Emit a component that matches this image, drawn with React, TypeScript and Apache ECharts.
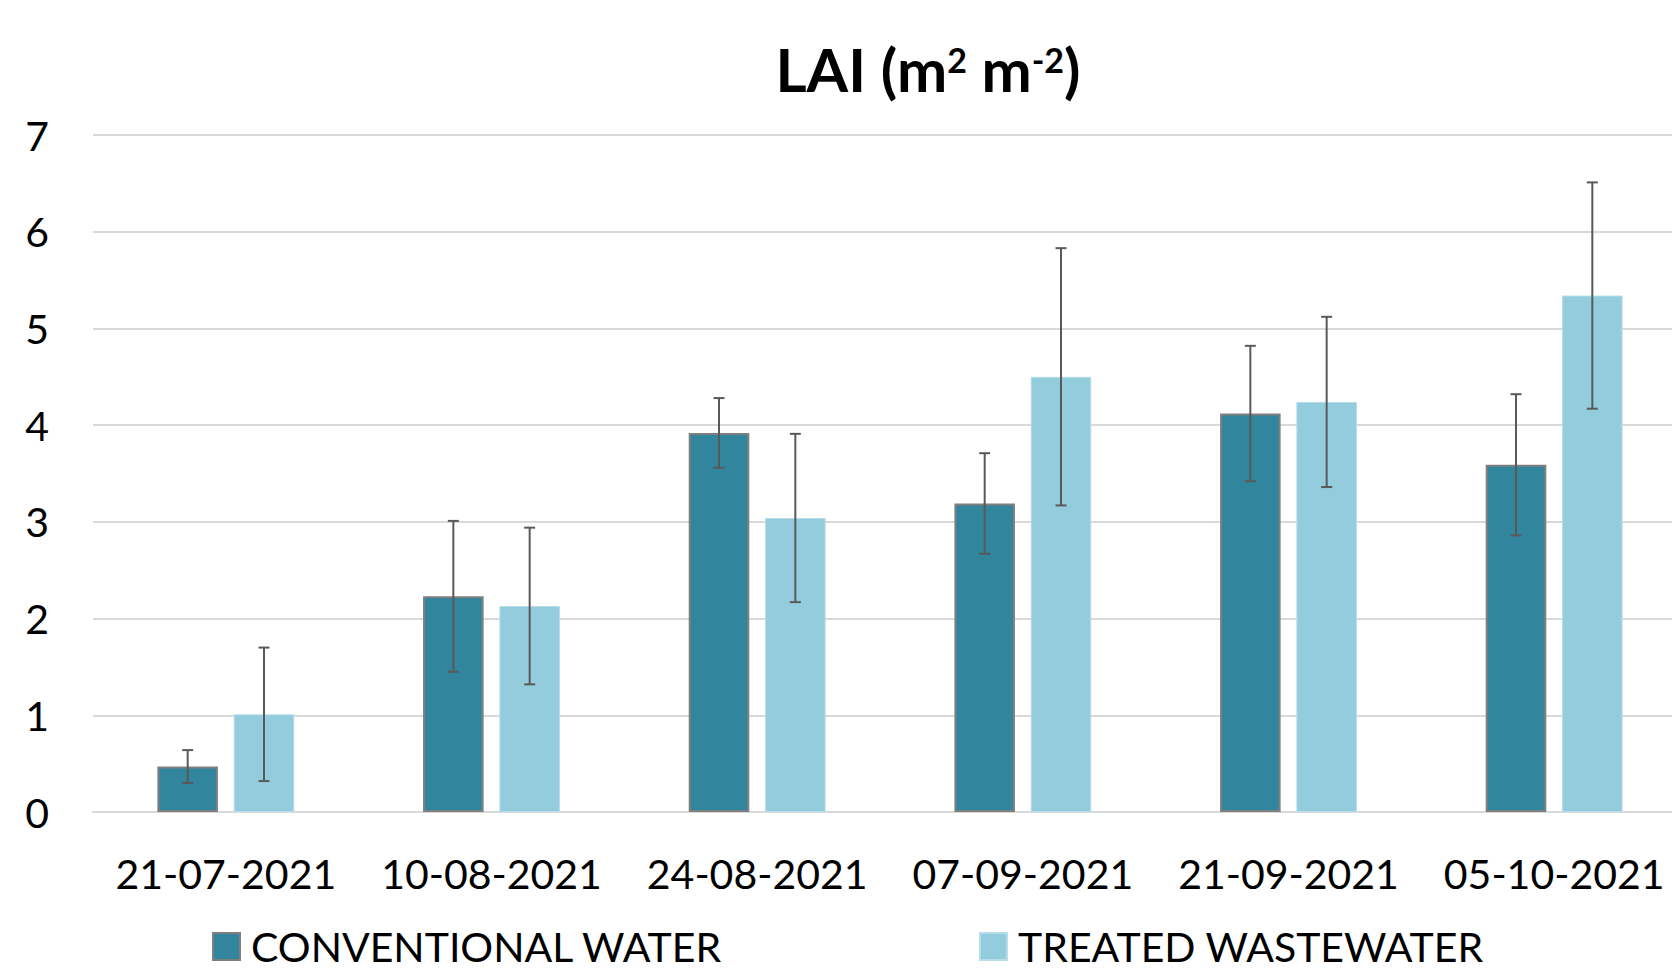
import React, { useEffect, useRef } from "react";
import * as echarts from "echarts";

const categories = ["21-07-2021", "10-08-2021", "24-08-2021", "07-09-2021", "21-09-2021", "05-10-2021"];
const conventional = [0.47, 2.23, 3.92, 3.19, 4.12, 3.59];
const conventionalErr = [0.17, 0.78, 0.36, 0.52, 0.70, 0.73];
const treated = [1.01, 2.13, 3.04, 4.50, 4.24, 5.34];
const treatedErr = [0.69, 0.81, 0.87, 1.33, 0.88, 1.17];
const seriesNames = ["CONVENTIONAL WATER", "TREATED WASTEWATER"];
const yTicks = { min: 0, max: 7, interval: 1 };

const BAR_FRAC = 0.228;
const GAP_FRAC = 0.26;

function errorSeries(name: string, values: number[], errs: number[], sign: number) {
  return {
    type: "custom",
    name,
    silent: true,
    z: 10,
    encode: { x: 0, y: [1, 2] },
    data: values.map((v, i) => [i, v - errs[i], v + errs[i]]),
    renderItem: (params: any, api: any) => {
      const i = api.value(0);
      const lo = api.coord([i, api.value(1)]);
      const hi = api.coord([i, api.value(2)]);
      const band = api.size([1, 0])[0];
      const off = (band * BAR_FRAC * (1 + GAP_FRAC)) / 2 * sign;
      const x = lo[0] + off;
      const cap = 5.5;
      const style = { stroke: "#595959", lineWidth: 2 };
      return {
        type: "group",
        children: [
          { type: "line", shape: { x1: x, y1: hi[1], x2: x, y2: lo[1] }, style },
          { type: "line", shape: { x1: x - cap, y1: hi[1], x2: x + cap, y2: hi[1] }, style },
          { type: "line", shape: { x1: x - cap, y1: lo[1], x2: x + cap, y2: lo[1] }, style },
        ],
      };
    },
  };
}

export default function App() {
  const ref = useRef<HTMLDivElement>(null);
  useEffect(() => {
    if (!ref.current) return;
    const chart = echarts.init(ref.current, null, { renderer: "svg" });
    const font = "Lato";
    const legendText = { fontFamily: font, fontSize: 41, lineHeight: 41, color: "#000", padding: [0, 0, 0, 6] };
    chart.setOption({
      animation: false,
      backgroundColor: "#ffffff",
      grid: { left: 93, top: 135, width: 1594, height: 677, containLabel: false, outerBoundsMode: "none" },
      graphic: [
        {
          type: "text",
          x: 928,
          y: 69,
          style: {
            text: "{a|LAI (m}{s|2}{a| m}{s|-2}{a|)}",
            align: "center",
            verticalAlign: "middle",
            rich: {
              a: { fontFamily: font, fontWeight: "bold", fontSize: 60, lineHeight: 70, fill: "#000" },
              s: { fontFamily: font, fontWeight: "bold", fontSize: 34, verticalAlign: "middle", padding: [0, 0, 20, 0], fill: "#000" },
            },
          },
        },
      ],
      legend: [
        {
          data: [seriesNames[0]],
          left: 212,
          top: 926,
          padding: 0,
          itemWidth: 27,
          itemHeight: 27,
          icon: "rect",
          selectedMode: false,
          textStyle: legendText,
        },
        {
          data: [seriesNames[1]],
          left: 979,
          top: 926,
          padding: 0,
          itemWidth: 27,
          itemHeight: 27,
          icon: "rect",
          selectedMode: false,
          textStyle: legendText,
        },
      ],
      xAxis: {
        type: "category",
        data: categories,
        axisLine: { show: true, lineStyle: { color: "#d9d9d9", width: 2 } },
        axisTick: { show: false },
        axisLabel: { fontFamily: font, fontSize: 41, color: "#000", margin: 41, interval: 0 },
      },
      yAxis: {
        type: "value",
        min: yTicks.min,
        max: yTicks.max,
        interval: yTicks.interval,
        axisLine: { show: false },
        axisTick: { show: false },
        axisLabel: { fontFamily: font, fontSize: 41, color: "#000", margin: 44 },
        splitLine: { lineStyle: { color: "#d9d9d9", width: 2 } },
      },
      series: [
        {
          type: "bar",
          name: seriesNames[0],
          data: conventional,
          barWidth: BAR_FRAC * 100 + "%",
          barGap: GAP_FRAC * 100 + "%",
          itemStyle: { color: "#31859C", borderColor: "#7f7f7f", borderWidth: 2 },
        },
        {
          type: "bar",
          name: seriesNames[1],
          data: treated,
          barWidth: BAR_FRAC * 100 + "%",
          barGap: GAP_FRAC * 100 + "%",
          itemStyle: { color: "#93CDDD", borderColor: "#b7dee8", borderWidth: 1 },
        },
        errorSeries("CW error", conventional, conventionalErr, -1),
        errorSeries("TW error", treated, treatedErr, 1),
      ],
    });
    return () => chart.dispose();
  }, []);
  return <div ref={ref} style={{ position: "fixed", left: 0, top: 0, width: 1672, height: 969 }} />;
}
